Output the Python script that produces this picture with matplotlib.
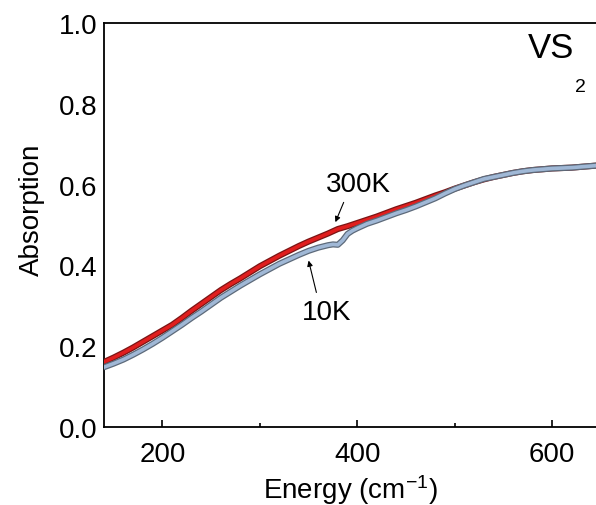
import matplotlib
matplotlib.use("Agg")
import matplotlib.pyplot as plt
import matplotlib.patheffects as pe
from matplotlib.ticker import FixedLocator

plt.rcParams['font.family'] = ['Liberation Sans', 'DejaVu Sans']
plt.rcParams['mathtext.fontset'] = 'custom'
plt.rcParams['mathtext.rm'] = 'Liberation Sans'
plt.rcParams['mathtext.it'] = 'Liberation Sans:italic'

energy_300K = [140, 150, 160, 170, 180, 190, 200, 210, 220, 230, 240, 250, 260, 270, 280,
               290, 300, 310, 320, 330, 340, 350, 360, 370, 380, 390, 400, 410, 420, 430,
               440, 450, 460, 470, 480, 490, 500, 510, 520, 530, 540, 550, 560, 570, 580,
               590, 600, 610, 620, 630, 640, 645]
abs_300K = [0.161, 0.172, 0.184, 0.197, 0.211, 0.225, 0.239, 0.253, 0.270, 0.288, 0.305,
            0.322, 0.339, 0.354, 0.368, 0.383, 0.398, 0.411, 0.424, 0.436, 0.448, 0.459,
            0.469, 0.479, 0.490, 0.497, 0.505, 0.513, 0.521, 0.530, 0.539, 0.547, 0.555,
            0.564, 0.573, 0.581, 0.590, 0.598, 0.606, 0.613, 0.619, 0.624, 0.629, 0.633,
            0.636, 0.638, 0.640, 0.641, 0.642, 0.644, 0.646, 0.647]

energy_10K = [140, 150, 160, 170, 180, 190, 200, 210, 220, 230, 240, 250, 260, 270, 280,
              290, 300, 310, 320, 330, 340, 350, 360, 370, 375, 380, 385, 390, 395, 400,
              410, 420, 430, 440, 450, 460, 470, 480, 490, 500, 510, 520, 530, 540, 550,
              560, 570, 580, 590, 600, 610, 620, 630, 640, 645]
abs_10K = [0.148, 0.157, 0.167, 0.179, 0.192, 0.206, 0.221, 0.237, 0.253, 0.270, 0.286,
           0.303, 0.320, 0.335, 0.350, 0.364, 0.378, 0.391, 0.404, 0.415, 0.426, 0.436,
           0.444, 0.450, 0.452, 0.451, 0.462, 0.478, 0.486, 0.492, 0.503, 0.511, 0.520,
           0.529, 0.537, 0.546, 0.556, 0.566, 0.578, 0.589, 0.598, 0.606, 0.614, 0.619,
           0.624, 0.629, 0.633, 0.636, 0.638, 0.640, 0.641, 0.642, 0.644, 0.646, 0.647]

x_major = [200, 400, 600]
x_minor = [300, 500]
y_ticks = [0.0, 0.2, 0.4, 0.6, 0.8, 1.0]

fig = plt.figure(figsize=(5.96, 5.06), dpi=100)
ax = fig.add_axes([104/596, 1 - 428/506, 1 - 104/596, (428 - 24)/506])

ax.plot(energy_300K, abs_300K, color='#e01e1e', lw=2.6, solid_capstyle='round',
        path_effects=[pe.Stroke(linewidth=4.4, foreground='#7a1515'), pe.Normal()], zorder=3)
ax.plot(energy_10K, abs_10K, color='#a0b8d6', lw=2.6, solid_capstyle='round',
        path_effects=[pe.Stroke(linewidth=4.4, foreground='#5d6a7a'), pe.Normal()], zorder=4)

ax.set_xlim(140, 645)
ax.set_ylim(0, 1.0)
ax.xaxis.set_major_locator(FixedLocator(x_major))
ax.xaxis.set_minor_locator(FixedLocator(x_minor))
ax.set_yticks(y_ticks)
ax.set_yticklabels([f"{v:.1f}" for v in y_ticks])
ax.tick_params(axis='x', which='major', direction='in', length=5, width=1.2, labelsize=20, pad=10)
ax.tick_params(axis='x', which='minor', direction='in', length=3, width=1.2)
ax.tick_params(axis='y', which='both', length=0, labelsize=20, pad=5)

ax.spines['right'].set_visible(False)
for s in ['left', 'bottom', 'top']:
    ax.spines[s].set_linewidth(1.3)

ax.set_xlabel('Energy (cm$^{\\mathregular{-1}}$)', fontsize=20, labelpad=4)
ax.set_ylabel('Absorption', fontsize=20)
ax.yaxis.set_label_coords(-0.12, 0.54)

ax.text(0.955, 0.916, 'VS', transform=ax.transAxes, fontsize=25,
        ha='right', va='baseline')
ax.text(0.957, 0.832, '2', transform=ax.transAxes, fontsize=14,
        ha='left', va='baseline')

ax.text(401, 0.601, '300K', fontsize=20, ha='center', va='center')
ax.text(369, 0.284, '10K', fontsize=20, ha='center', va='center')
ax.annotate('', xy=(377.5, 0.507), xytext=(386, 0.556),
            arrowprops=dict(arrowstyle='-|>', color='black', lw=0.8, mutation_scale=8,
                            shrinkA=0, shrinkB=0))
ax.annotate('', xy=(350, 0.412), xytext=(358, 0.333),
            arrowprops=dict(arrowstyle='-|>', color='black', lw=0.8, mutation_scale=8,
                            shrinkA=0, shrinkB=0))

fig.savefig('out.png', dpi=100)
